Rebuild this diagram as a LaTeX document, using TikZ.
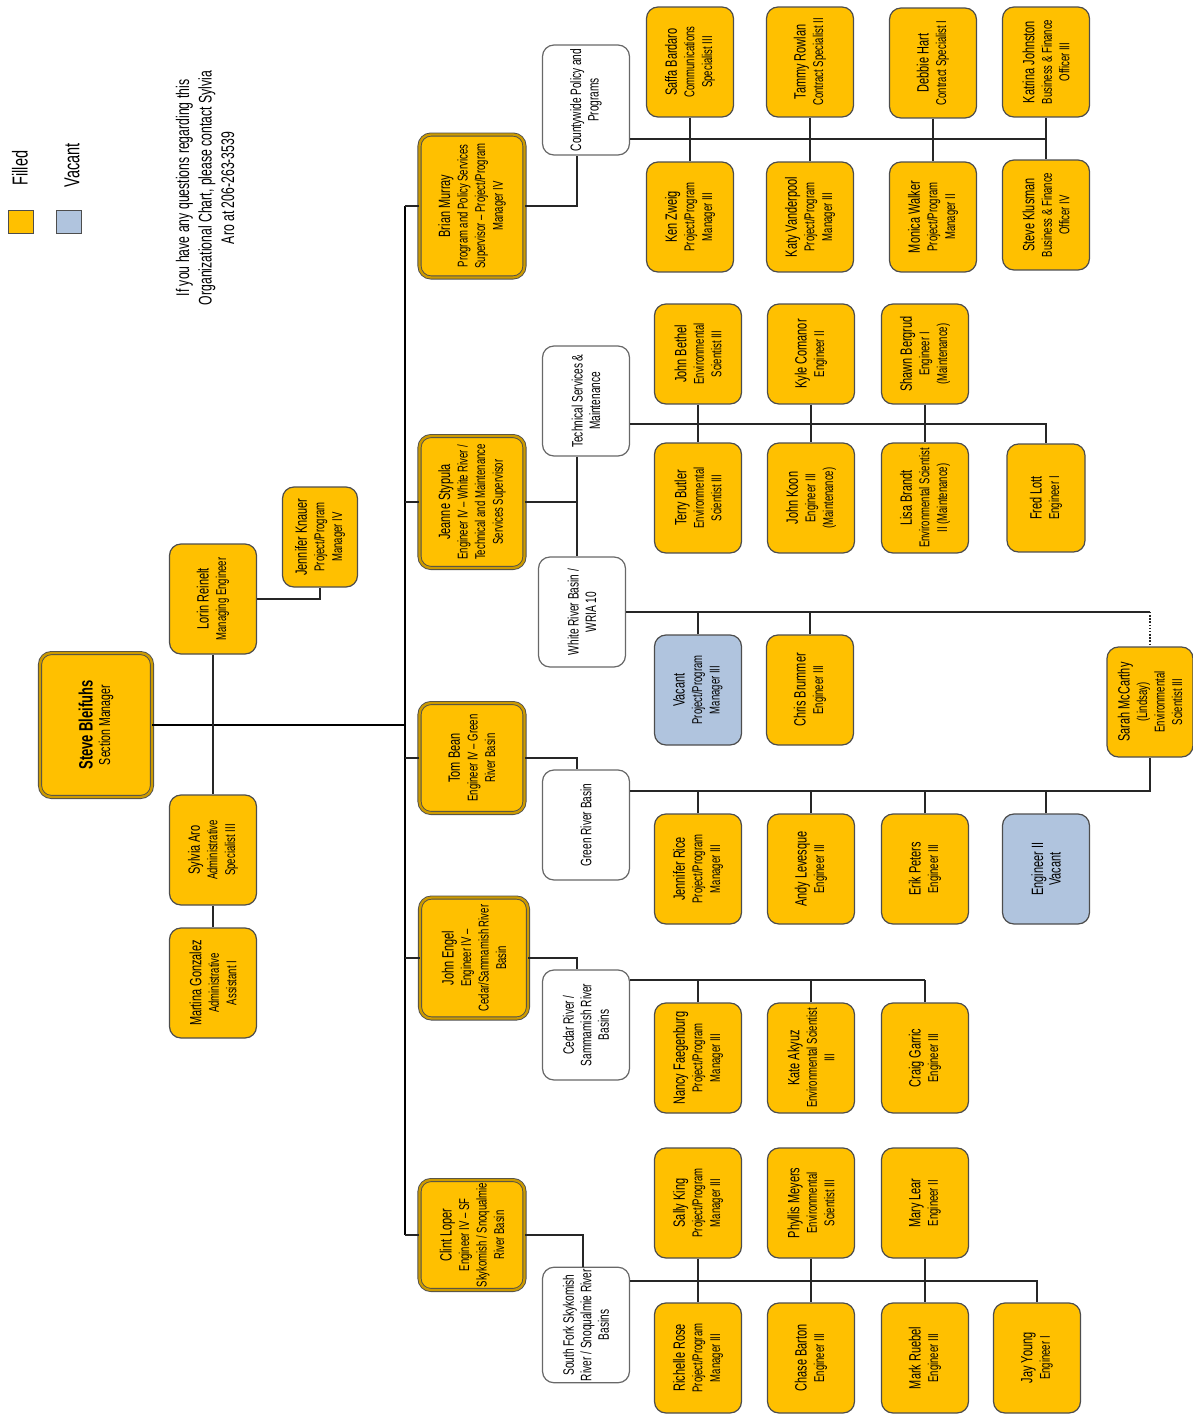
\documentclass[tikz,border=0pt]{standalone}
\usepackage{fontspec}
\setmainfont{Liberation Sans}[FakeStretch=0.67]
\usepackage{tikz}
\usetikzlibrary{calc}
\definecolor{OrgGold}{HTML}{FFC000}
\definecolor{OrgVacant}{HTML}{B0C4DE}
\definecolor{OrgEdge}{HTML}{4D4D4D}
\definecolor{OrgLine}{HTML}{262626}
\newcommand{\who}[1]{{\fontsize{9.3}{10.2}\selectfont #1}}

\begin{document}
\begin{tikzpicture}[
  x=0.02cm, y=-0.02cm,
  staffbox/.style={
    draw=OrgEdge,
    fill=OrgGold,
    rounded corners=6.5pt,
    rotate=90,
    align=center,
    inner sep=1pt,
    minimum width=2.2cm,
    minimum height=1.74cm,
    line width=0.7pt,
    font=\fontsize{8.1}{10}\selectfont
  },
  vacantbox/.style={staffbox, fill=OrgVacant},
  unitbox/.style={staffbox, fill=white, draw=OrgEdge!85, font=\fontsize{8.6}{10}\selectfont},
  leadbox/.style={staffbox, minimum height=2.1cm, draw=OrgEdge, double=OrgGold!80!black, double distance=1.3pt, line width=0.5pt},
  keybox/.style={draw=OrgEdge, line width=0.9pt, minimum width=0.5cm, minimum height=0.46cm, inner sep=0pt},
  link/.style={draw=OrgLine, line width=0.8pt},
  trunkline/.style={draw=black, line width=1.4pt}
]
\useasboundingbox (0,0) rectangle (1193,1414);

% legend and note
\node[keybox, fill=OrgGold] (keyfilled) at (21,222) {};
\node[keybox, fill=OrgVacant] (keyvacant) at (69,222) {};
\node[rotate=90, font=\fontsize{12.3}{13}\selectfont] (keyfilledtxt) at (20,168) {Filled};
\node[rotate=90, font=\fontsize{12.3}{13}\selectfont] (keyvacanttxt) at (72,165) {Vacant};
\node[rotate=90, align=center, font=\fontsize{10.4}{12.8}\selectfont] (contact) at (205,188) {If you have any questions regarding this\\Organizational Chart, please contact Sylvia\\Aro at 206-263-3539};

% section manager and staff
\node[leadbox, minimum width=2.88cm, minimum height=2.24cm] (steve) at (96,725) {{\fontsize{11}{12}\selectfont\bfseries Steve Bleifuhs}\\{\fontsize{9}{10}\selectfont Section Manager}};
\node[staffbox] (lorin) at (213,599) {\who{Lorin Reinelt}\\Managing Engineer};
\node[staffbox, minimum width=2cm, minimum height=1.5cm] (knauer) at (320,537) {\who{Jennifer Knauer}\\Project/Program\\Manager IV};
\node[staffbox] (aro) at (213,850) {\who{Sylvia Aro}\\Administrative\\Specialist III};
\node[staffbox] (gonzalez) at (213,983) {\who{Martina Gonzalez}\\Administrative\\Assistant I};

% supervisors
\node[leadbox, minimum width=2.86cm] (brian) at (472,206) {\who{Brian Murray}\\Program and Policy Services\\Supervisor -- Project/Program\\Manager IV};
\node[leadbox, minimum width=2.64cm] (jeanne) at (472,502) {\who{Jeanne Stypula}\\Engineer IV -- White River /\\Technical and Maintenance\\Services Supervisor};
\node[leadbox] (tom) at (472,758) {\who{Tom Bean}\\Engineer IV -- Green\\River Basin};
\node[leadbox, minimum width=2.42cm, minimum height=2.16cm] (engel) at (474,958) {\who{John Engel}\\Engineer IV --\\Cedar/Sammamish River\\Basin};
\node[leadbox] (loper) at (472,1235) {\who{Clint Loper}\\Engineer IV -- SF\\Skykomish / Snoqualmie\\River Basin};

% work units
\node[unitbox] (county) at (586,100) {Countywide Policy and\\Programs};
\node[unitbox] (tech) at (586,401) {Technical Services \&\\Maintenance};
\node[unitbox] (white) at (582,612) {White River Basin /\\WRIA 10};
\node[unitbox] (green) at (586,825) {Green River Basin};
\node[unitbox] (cedar) at (586,1025) {Cedar River /\\Sammamish River\\Basins};
\node[unitbox] (sfork) at (586,1325) {South Fork Skykomish\\River / Snoqualmie River\\Basins};

% countywide policy
\node[staffbox] (saffa) at (690,62) {\who{Saffa Bardaro}\\Communications\\Specialist III};
\node[staffbox] (tammy) at (810,62) {\who{Tammy Rowlan}\\Contract Specialist II};
\node[staffbox] (debbie) at (933,63) {\who{Debbie Hart}\\Contract Specialist I};
\node[staffbox] (katrina) at (1046,62) {\who{Katrina Johnston}\\Business \& Finance\\Officer III};
\node[staffbox] (ken) at (690,217) {\who{Ken Zweig}\\Project/Program\\Manager III};
\node[staffbox] (katy) at (810,217) {\who{Katy Vanderpool}\\Project/Program\\Manager III};
\node[staffbox] (monica) at (933,217) {\who{Monica Walker}\\Project/Program\\Manager II};
\node[staffbox] (klusman) at (1046,215) {\who{Steve Klusman}\\Business \& Finance\\Officer IV};

% technical services
\node[staffbox, minimum width=2cm] (bethel) at (698,354) {\who{John Bethel}\\Environmental\\Scientist III};
\node[staffbox, minimum width=2cm] (kyle) at (811,354) {\who{Kyle Comanor}\\Engineer II};
\node[staffbox, minimum width=2cm] (shawn) at (925,354) {\who{Shawn Bergrud}\\Engineer I\\(Maintenance)};
\node[staffbox] (butler) at (698,498) {\who{Terry Butler}\\Environmental\\Scientist III};
\node[staffbox] (koon) at (811,498) {\who{John Koon}\\Engineer III\\(Maintenance)};
\node[staffbox] (brandt) at (925,498) {\who{Lisa Brandt}\\Environmental Scientist\\II (Maintenance)};
\node[staffbox, minimum width=2.16cm, minimum height=1.56cm] (lott) at (1046,498) {\who{Fred Lott}\\Engineer I};

% white river
\node[vacantbox] (vacpm) at (698,690) {\who{Vacant}\\Project/Program\\Manager III};
\node[staffbox] (brummer) at (810,690) {\who{Chris Brummer}\\Engineer III};
\node[staffbox, minimum height=1.72cm] (sarah) at (1150,702) {\who{Sarah McCarthy}\\(Lindsay)\\Environmental\\Scientist III};

% green river
\node[staffbox] (rice) at (698,869) {\who{Jennifer Rice}\\Project/Program\\Manager III};
\node[staffbox] (levesque) at (811,869) {\who{Andy Levesque}\\Engineer III};
\node[staffbox] (peters) at (925,869) {\who{Erik Peters}\\Engineer III};
\node[vacantbox] (engvac) at (1046,869) {\who{Engineer II}\\\who{Vacant}};

% cedar / sammamish
\node[staffbox] (faegenburg) at (698,1058) {\who{Nancy Faegenburg}\\Project/Program\\Manager III};
\node[staffbox] (akyuz) at (811,1058) {\who{Kate Akyuz}\\Environmental Scientist\\III};
\node[staffbox] (garric) at (925,1058) {\who{Craig Garric}\\Engineer III};

% south fork / snoqualmie
\node[staffbox] (king) at (698,1203) {\who{Sally King}\\Project/Program\\Manager III};
\node[staffbox] (meyers) at (811,1203) {\who{Phyllis Meyers}\\Environmental\\Scientist III};
\node[staffbox] (lear) at (925,1203) {\who{Mary Lear}\\Engineer II};
\node[staffbox] (rose) at (698,1358) {\who{Richelle Rose}\\Project/Program\\Manager III};
\node[staffbox] (barton) at (811,1358) {\who{Chase Barton}\\Engineer III};
\node[staffbox] (ruebel) at (925,1358) {\who{Mark Ruebel}\\Engineer III};
\node[staffbox] (young) at (1037,1358) {\who{Jay Young}\\Engineer I};

% reporting lines
\coordinate (hub) at (405,725);
\draw[trunkline] (steve.south) -- (hub);
\draw[trunkline] (hub |- brian.north) -- (hub |- loper.north);
\foreach \lead in {brian,jeanne,tom,engel,loper}
  \draw[link] (\lead.north) -- (hub |- \lead.north);
\draw[link] (lorin) -- (aro);
\draw[link] (aro) -- (gonzalez);
\draw[link] (lorin.south) -| (knauer.west);

\coordinate (countytap) at ([xshift=-0.18cm]county.west);
\coordinate (techtap) at ([xshift=-0.18cm]tech.west);
\coordinate (greentap) at ([xshift=-0.18cm]green.east);
\coordinate (cedartap) at ([xshift=-0.18cm]cedar.east);
\coordinate (sforktap) at ([xshift=-0.06cm]sfork.east);
\draw[link] (brian.south) -| (countytap);
\draw[link] (jeanne.south) -- (jeanne.south -| techtap);
\draw[link] (techtap) -- (techtap |- white.east);
\draw[link] (tom.south) -| (greentap);
\draw[link] (engel.south) -| (cedartap);
\draw[link] (loper.south) -| (sforktap);

% unit buses
\coordinate (countybus) at (690,139);
\draw[link] (county.south |- countybus) -- (katrina |- countybus);
\foreach \up/\down in {saffa/ken,tammy/katy,debbie/monica,katrina/klusman}
  \draw[link] (\up) -- (\down);

\coordinate (techbus) at (698,424);
\draw[link] (tech.south |- techbus) -- (lott.east |- techbus) -- (lott.east);
\foreach \up/\down in {bethel/butler,kyle/koon,shawn/brandt}
  \draw[link] (\up) -- (\down);

\draw[link] (white.south) -- (sarah.east |- white.south);
\draw[link, densely dotted] (sarah.east |- white.south) -- (sarah.east);
\foreach \who in {vacpm,brummer}
  \draw[link] (\who.east) -- (\who.east |- white.south);

\coordinate (greenbus) at (698,791);
\draw[link] (green.south |- greenbus) -- (sarah.west |- greenbus) -- (sarah.west);
\foreach \who in {rice,levesque,peters,engvac}
  \draw[link] (\who.east) -- (\who.east |- greenbus);

\coordinate (cedarbus) at (698,980);
\draw[link] (cedar.south |- cedarbus) -- (garric.east |- cedarbus);
\foreach \who in {faegenburg,akyuz,garric}
  \draw[link] (\who.east) -- (\who.east |- cedarbus);

\coordinate (sforkbus) at (698,1281);
\draw[link] (sfork.south |- sforkbus) -- (young.east |- sforkbus) -- (young.east);
\foreach \up/\down in {king/rose,meyers/barton,lear/ruebel}
  \draw[link] (\up) -- (\down);
\end{tikzpicture}
\end{document}
